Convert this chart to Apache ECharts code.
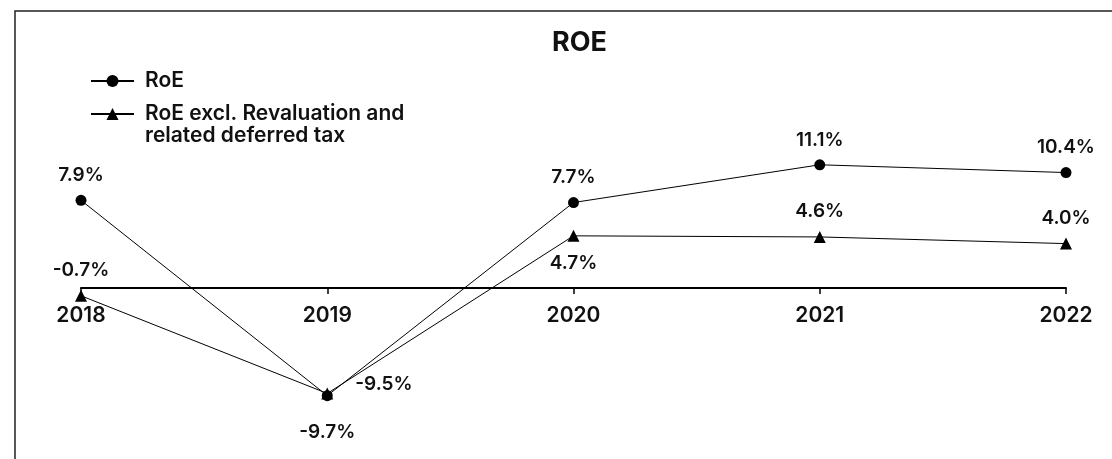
<!DOCTYPE html>
<html>
<head>
<meta charset="utf-8">
<script src="https://cdn.jsdelivr.net/npm/echarts@6/dist/echarts.min.js"></script>
<style>
html,body{margin:0;padding:0;background:#fff;}
#chart{width:1112px;height:459px;}
</style>
</head>
<body>
<div id="chart"></div>
<script>
const years = ['2018', '2019', '2020', '2021', '2022'];
const roe = [7.9, -9.7, 7.7, 11.1, 10.4];
const roeExcl = [-0.7, -9.5, 4.7, 4.6, 4.0];
const seriesNames = ['RoE', 'RoE excl. Revaluation and related deferred tax'];

const FONT = 'Inter, "Liberation Sans", Arial, sans-serif';
const WEIGHT = 600;
const labelStyle = {
  show: true,
  fontFamily: FONT,
  fontSize: 19,
  fontWeight: WEIGHT,
  color: '#111',
  formatter: p => p.value.toFixed(1) + '%'
};

const roeData = roe.map((v, i) => i === 1
  ? { value: v, label: { position: 'bottom', distance: 22 } }
  : v);
const exclData = roeExcl.map((v, i) => {
  if (i === 1) return { value: v, label: { position: 'right', distance: 22, offset: [0, -9] } };
  if (i === 2) return { value: v, label: { position: 'bottom', distance: 12 } };
  return v;
});

const chart = echarts.init(document.getElementById('chart'), null, { renderer: 'canvas' });
chart.setOption({
  backgroundColor: '#fff',
  animation: false,
  title: {
    text: 'ROE',
    left: 547,
    top: 24,
    textStyle: { fontFamily: FONT, fontSize: 27, fontWeight: 'bold', color: '#111' }
  },
  legend: {
    orient: 'vertical',
    left: 85,
    top: 65,
    itemWidth: 43,
    itemHeight: 15,
    itemGap: -11,
    data: seriesNames,
    formatter: name => name === seriesNames[1]
      ? '\nRoE excl. Revaluation and\nrelated deferred tax'
      : name,
    textStyle: { fontFamily: FONT, fontSize: 21, fontWeight: WEIGHT, lineHeight: 22, color: '#111', padding: [0, 0, 0, 6] }
  },
  graphic: [{
    type: 'rect',
    shape: { x: 15, y: 11, width: 1300, height: 600 },
    style: { fill: 'none', stroke: '#222', lineWidth: 1.5 },
    silent: true
  }],
  grid: { left: 81, right: 46, top: 132.6, height: 155.4 },
  xAxis: {
    type: 'category',
    data: years,
    boundaryGap: false,
    axisLine: { onZero: false, lineStyle: { color: '#000', width: 2 } },
    axisTick: { show: true, length: 6, lineStyle: { color: '#000', width: 1.5 } },
    axisLabel: { fontFamily: FONT, fontSize: 21, fontWeight: WEIGHT, color: '#111', margin: 17 }
  },
  yAxis: {
    type: 'value',
    min: 0,
    max: 14,
    show: false,
    splitLine: { show: false }
  },
  series: [
    {
      name: seriesNames[0],
      type: 'line',
      data: roeData,
      clip: false,
      symbol: 'circle',
      symbolSize: 11,
      itemStyle: { color: '#000' },
      lineStyle: { color: '#000', width: 1 },
      label: Object.assign({}, labelStyle, { position: 'top', distance: 10 }),
      z: 3
    },
    {
      name: seriesNames[1],
      type: 'line',
      data: exclData,
      clip: false,
      symbol: 'triangle',
      symbolSize: 12,
      itemStyle: { color: '#000' },
      lineStyle: { color: '#000', width: 1 },
      label: Object.assign({}, labelStyle, { position: 'top', distance: 10 }),
      z: 4
    }
  ]
});
</script>
</body>
</html>
